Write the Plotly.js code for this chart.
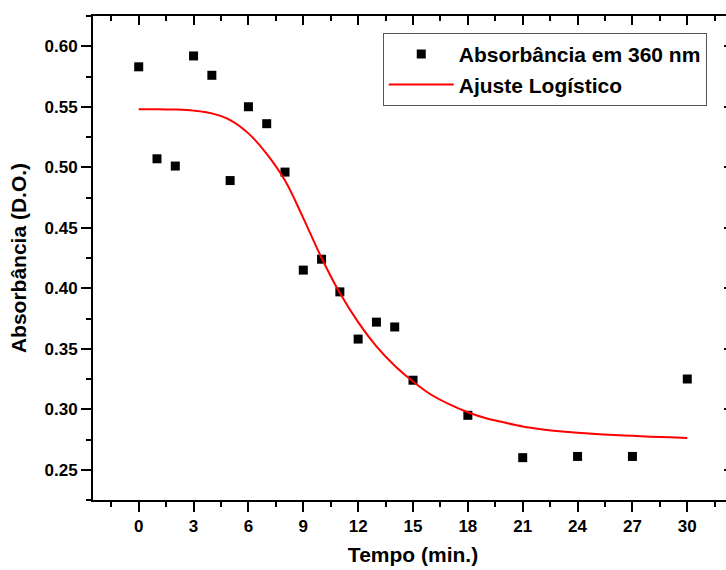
<!DOCTYPE html>
<html>
<head>
<meta charset="utf-8">
<script src="https://cdn.plot.ly/plotly-3.0.1.min.js"></script>
<style>
html, body { margin:0; padding:0; overflow:hidden; background:#fff; }
#chart { width:760px; height:570px; }
</style>
</head>
<body>
<div id="chart"></div>
<script>
// Measured absorbance at 360 nm
const tempo = [0, 1, 2, 3, 4, 5, 6, 7, 8, 9, 10, 11, 12, 13, 14, 15, 18, 21, 24, 27, 30];
const absorbancia = [0.583, 0.507, 0.501, 0.592, 0.576, 0.489, 0.550, 0.536, 0.496, 0.415, 0.424,
                     0.397, 0.358, 0.372, 0.368, 0.324, 0.295, 0.260, 0.261, 0.261, 0.325];

// Logistic fit curve
const ajusteX = [0, 1, 2, 3, 4, 5, 6, 7, 8, 9, 10, 11, 12, 13, 14, 15, 16, 17, 18, 19, 20,
                 21, 22, 23, 24, 25, 26, 27, 28, 29, 30];
const ajusteY = [0.548, 0.548, 0.5477, 0.5468, 0.5445, 0.539, 0.528, 0.511, 0.489, 0.458, 0.425,
                 0.396, 0.372, 0.352, 0.336, 0.323, 0.312, 0.304, 0.2975, 0.2925, 0.289,
                 0.2858, 0.2835, 0.2818, 0.2805, 0.2795, 0.2787, 0.278, 0.2773, 0.2768, 0.2763];

const xTicks = [0, 3, 6, 9, 12, 15, 18, 21, 24, 27, 30];
const yTicks = [0.25, 0.30, 0.35, 0.40, 0.45, 0.50, 0.55, 0.60];

const xRange = [-2.5, 32.5];
const yRange = [0.225, 0.625];

const FONT = 'Liberation Sans, Arial, sans-serif';

const traces = [
  {
    x: tempo, y: absorbancia, type: 'scatter', mode: 'markers',
    name: 'Absorbância em 360 nm',
    marker: { symbol: 'square', size: 9, color: '#000000' }
  },
  {
    x: ajusteX, y: ajusteY, type: 'scatter', mode: 'lines',
    name: 'Ajuste Logístico',
    line: { color: '#ff0000', width: 2, shape: 'spline', smoothing: 1 }
  },
  {
    x: [], y: [], xaxis: 'x2', yaxis: 'y2', type: 'scatter', mode: 'markers',
    showlegend: false, hoverinfo: 'skip'
  }
];

const axisCommon = {
  showline: true, linecolor: '#000', linewidth: 2,
  showgrid: false, zeroline: false,
  tickcolor: '#000', tickwidth: 2,
  tickfont: { family: FONT, size: 17, color: '#000', weight: 'bold' }
};

const layout = {
  width: 760, height: 570,
  margin: { l: 93, r: 27, t: 16, b: 70 },
  paper_bgcolor: '#ffffff', plot_bgcolor: '#ffffff',
  font: { family: FONT, color: '#000' },
  xaxis: Object.assign({}, axisCommon, {
    range: xRange, tickmode: 'array', tickvals: xTicks, ticktext: xTicks.map(String),
    ticks: 'outside', ticklen: 10,
    minor: { dtick: 1.5, tick0: 0, ticks: 'outside', ticklen: 5, tickwidth: 2, tickcolor: '#000' },
    title: { text: 'Tempo (min.)', font: { family: FONT, size: 21, color: '#000', weight: 'bold' }, standoff: 12 }
  }),
  yaxis: Object.assign({}, axisCommon, {
    range: yRange, tickmode: 'array', tickvals: yTicks, ticktext: yTicks.map(v => v.toFixed(2)),
    ticks: 'outside', ticklen: 10,
    minor: { dtick: 0.025, tick0: 0.225, ticks: 'outside', ticklen: 5, tickwidth: 2, tickcolor: '#000' },
    title: { text: 'Absorbância (D.O.)', font: { family: FONT, size: 21, color: '#000', weight: 'bold' }, standoff: 12 }
  }),
  xaxis2: Object.assign({}, axisCommon, {
    overlaying: 'x', side: 'top', anchor: 'y2', range: xRange,
    tickmode: 'array', tickvals: xTicks, showticklabels: false,
    ticks: 'inside', ticklen: 9,
    minor: { dtick: 1.5, tick0: 0, ticks: 'inside', ticklen: 5, tickwidth: 2, tickcolor: '#000' }
  }),
  yaxis2: Object.assign({}, axisCommon, {
    overlaying: 'y', side: 'right', anchor: 'x2', range: yRange,
    tickmode: 'array', tickvals: yTicks, showticklabels: false,
    ticks: 'inside', ticklen: 9,
    minor: { dtick: 0.025, tick0: 0.225, ticks: 'inside', ticklen: 5, tickwidth: 2, tickcolor: '#000' }
  }),
  showlegend: true,
  legend: {
    x: 0.959, y: 0.965, xanchor: 'right', yanchor: 'top',
    bgcolor: '#ffffff', bordercolor: '#555555', borderwidth: 1,
    font: { family: FONT, size: 21, color: '#000', weight: 'bold' },
    itemwidth: 65, tracegroupgap: 0
  }
};

Plotly.newPlot('chart', traces, layout, { staticPlot: true, displayModeBar: false });
</script>
</body>
</html>
